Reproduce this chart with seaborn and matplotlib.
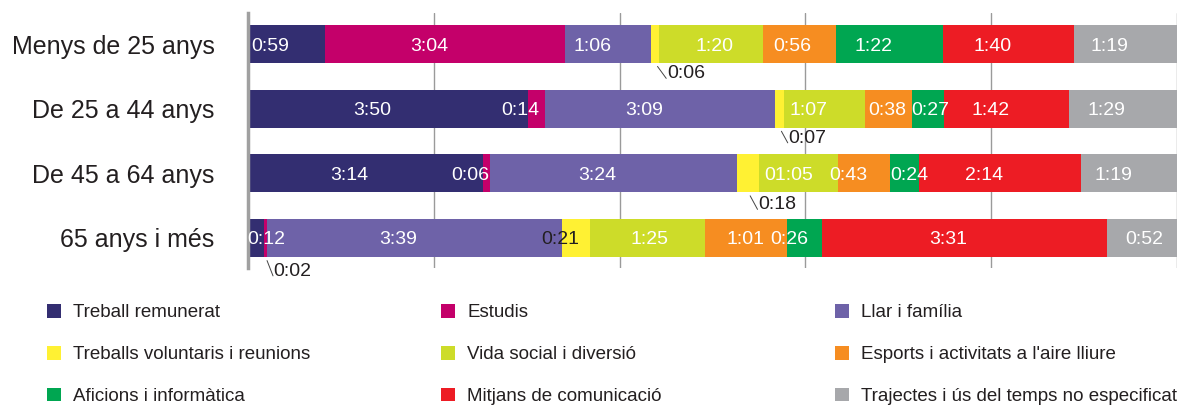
import numpy as np
import pandas as pd
import matplotlib
matplotlib.use("Agg")
import matplotlib.pyplot as plt
import seaborn as sns
from matplotlib.patches import Patch

grups = ["Menys de 25 anys", "De 25 a 44 anys", "De 45 a 64 anys", "65 anys i més"]
activitats = ["Treball remunerat", "Estudis", "Llar i família",
              "Treballs voluntaris i reunions", "Vida social i diversió",
              "Esports i activitats a l'aire lliure", "Aficions i informàtica",
              "Mitjans de comunicació", "Trajectes i ús del temps no especificat"]
colors = ["#332e71", "#c4006a", "#6e62a8", "#fff133", "#cddc29",
          "#f68d21", "#00a651", "#ed1c24", "#a7a8ab"]

# temps mitjà diari (h:mm) per activitat
menys_25 = ["0:59", "3:04", "1:06", "0:06", "1:20", "0:56", "1:22", "1:40", "1:19"]
de_25_44 = ["3:50", "0:14", "3:09", "0:07", "1:07", "0:38", "0:27", "1:42", "1:29"]
de_45_64 = ["3:14", "0:06", "3:24", "0:18", "01:05", "0:43", "0:24", "2:14", "1:19"]
mes_65 = ["0:12", "0:02", "3:39", "0:21", "1:25", "1:01", "0:26", "3:31", "0:52"]
temps = [menys_25, de_25_44, de_45_64, mes_65]


def to_min(s):
    h, m = s.split(":")
    return int(h) * 60 + int(m)


df = pd.DataFrame([[to_min(t) for t in row] for row in temps], index=grups, columns=activitats)
pct = df.div(df.sum(axis=1), axis=0) * 100
cum = pct.cumsum(axis=1)
plot_df = cum.reset_index(names="grup")

sns.set_theme(style="white")
plt.rcParams["font.family"] = ["Liberation Sans", "DejaVu Sans"]
dark = "#231f20"

fig, ax = plt.subplots(figsize=(11.9, 4.07), dpi=100)
fig.subplots_adjust(left=0.2084, right=0.989, top=0.968, bottom=0.3415)

# stacked bars: draw cumulative totals from the last to the first
for i in reversed(range(len(activitats))):
    sns.barplot(data=plot_df, x=activitats[i], y="grup", orient="h", color=colors[i],
                saturation=1, width=0.59, errorbar=None, linewidth=0, ax=ax)

ax.set_xlim(0, 100)
ax.set_ylim(3.47, -0.48)
ax.set_xticks([0, 20, 40, 60, 80, 100])
ax.set_xticklabels([])
ax.set_xlabel("")
ax.set_ylabel("")
ax.tick_params(axis="x", length=0)
ax.tick_params(axis="y", length=0, pad=24, labelsize=18, labelcolor=dark)
ax.grid(axis="x", color="#9a9a9a", lw=1)
ax.set_axisbelow(True)
for s in ["top", "right", "bottom"]:
    ax.spines[s].set_visible(False)
ax.spines["left"].set_color("#a0a0a0")
ax.spines["left"].set_linewidth(2.5)

# label nudges in pixels (default -16) and notes below the bar
shift = {(0, 4): 3, (0, 5): -8, (1, 5): -1, (1, 6): 2, (2, 4): -10, (2, 6): 5,
         (3, 0): 10, (3, 4): 2, (3, 5): -1, (3, 8): 2}
notes = {(0, 3): (12, -2), (1, 3): (9, -2), (2, 3): (10, -4), (3, 1): (8, -6)}
black = {(3, 3)}
px = 0.72

for r in range(len(grups)):
    for c in range(len(activitats)):
        label = temps[r][c]
        center = cum.iloc[r, c] - pct.iloc[r, c] / 2
        if (r, c) in notes:
            dx, dy = notes[(r, c)]
            ax.annotate(label, xy=(center, r + 0.295), xytext=(dx * px, dy * px),
                        textcoords="offset points", ha="left", va="top",
                        fontsize=14, color=dark,
                        arrowprops=dict(arrowstyle="-", lw=0.7, color="#444444", patchA=None,
                                        shrinkA=1, shrinkB=3, relpos=(0, 0.15)))
        else:
            dx = shift.get((r, c), -16)
            col = dark if (r, c) in black else "white"
            ax.annotate(label, xy=(center, r), xytext=(dx * px, -2 * px),
                        textcoords="offset points", ha="center", va="center",
                        fontsize=14, color=col)

handles = [Patch(facecolor=colors[i], edgecolor="none", label=activitats[i])
           for i in range(len(activitats))]
for k, x0 in enumerate([0.0395, 0.3706, 0.7017]):
    leg = fig.legend(handles=handles[k::3], loc="upper left", bbox_to_anchor=(x0, 0.253),
                     frameon=False, fontsize=13.5, handlelength=0.75, handleheight=0.75,
                     handletextpad=0.65, labelspacing=1.3, borderpad=0, borderaxespad=0)
    for t in leg.get_texts():
        t.set_color(dark)

fig.savefig("out.png", dpi=100)
